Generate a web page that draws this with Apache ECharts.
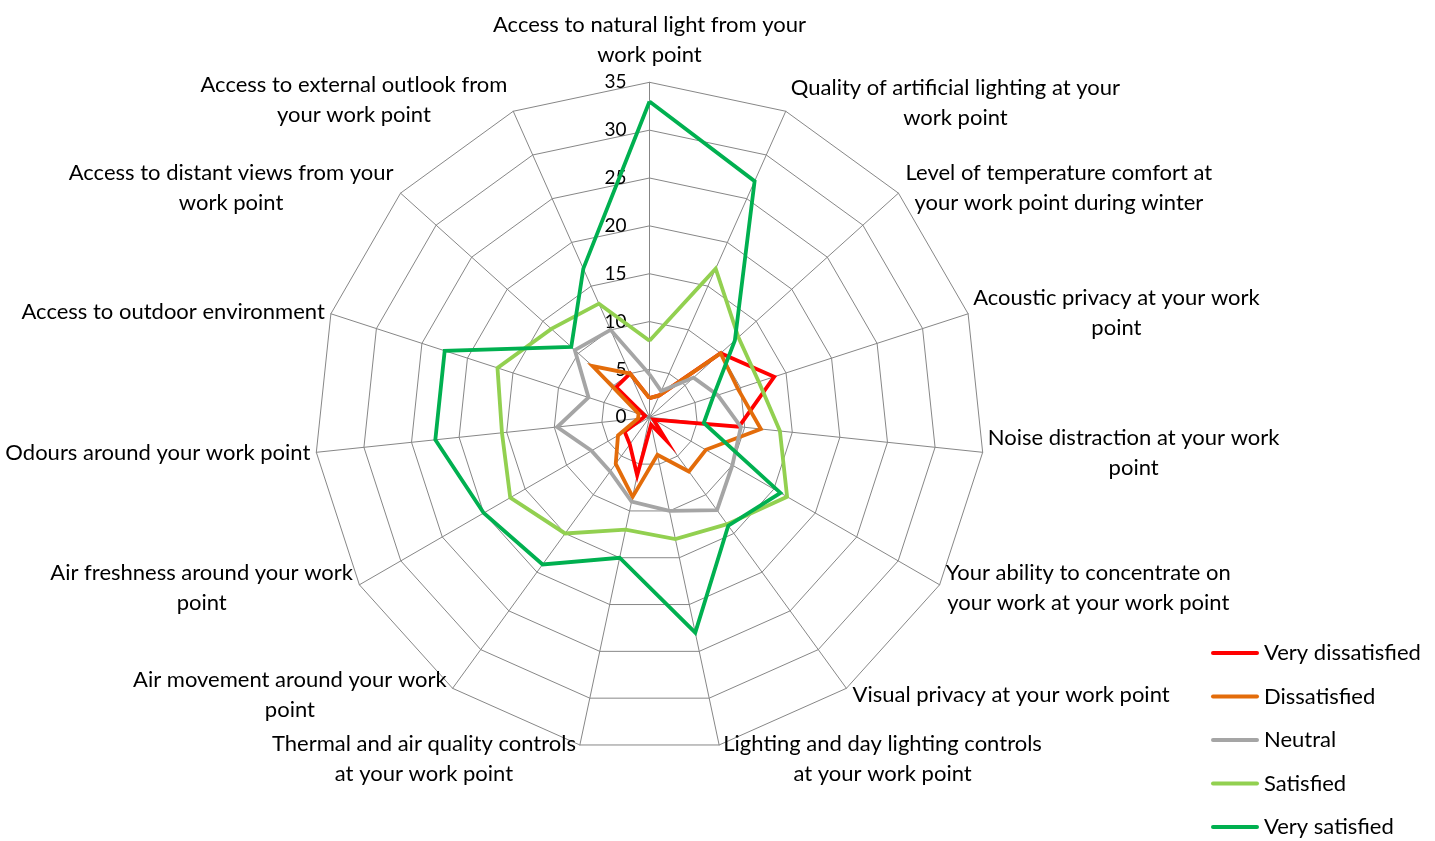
<!DOCTYPE html>
<html>
<head>
<meta charset="utf-8">
<script src="https://cdn.jsdelivr.net/npm/echarts@6/dist/echarts.min.js"></script>
<style>
  html, body { margin: 0; padding: 0; background: #ffffff; }
  #chart { width: 1435px; height: 841px; }
</style>
</head>
<body>
<div id="chart"></div>
<script>
// Workplace survey items, listed clockwise starting from the top of the radar
const categories = [
  'Access to natural light from your\nwork point',
  'Quality of artificial lighting at your\nwork point',
  'Level of temperature comfort at\nyour work point during winter',
  'Acoustic privacy at your work\npoint',
  'Noise distraction at your work\npoint',
  'Your ability to concentrate on\nyour work at your work point',
  'Visual privacy at your work point',
  'Lighting and day lighting controls\nat your work point',
  'Thermal and air quality controls\nat your work point',
  'Air movement around your work\npoint',
  'Air freshness around your work\npoint',
  'Odours around your work point',
  'Access to outdoor environment',
  'Access to distant views from your\nwork point',
  'Access to external outlook from\nyour work point'
];

const seriesNames = ['Very dissatisfied', 'Dissatisfied', 'Neutral', 'Satisfied', 'Very satisfied'];

// Responses per item (same clockwise order as categories)
const veryDissatisfied = [2, 2.5, 10, 13.7, 9.4, 0.5, 3, 0.8, 6.2, 3.5, 3, 0.7, 0.5, 4.7, 5];
const dissatisfied     = [2, 2.5, 10, 9.7, 11.7, 6.8, 7, 4, 8.5, 6, 3.8, 1.2, 1.2, 8, 5];
const neutral          = [4.5, 3, 6.2, 7.5, 9.6, 10, 12, 10, 9, 7, 7, 9.7, 6.7, 10.5, 10];
const satisfied        = [8, 17, 12.5, 12, 13.7, 16.6, 13.8, 13, 12, 15, 16.8, 15.5, 16.7, 13.8, 13];
const verySatisfied    = [33, 27, 12, 7, 5.7, 15.8, 14, 23, 15, 19, 20, 22.5, 22.5, 11, 17];

// Radial scale tick values
const tickValues = [0, 5, 10, 15, 20, 25, 30, 35];

const seriesValues = [veryDissatisfied, dissatisfied, neutral, satisfied, verySatisfied];
const seriesColors = ['#FF0000', '#E36C0A', '#A5A5A5', '#92D050', '#00B050'];

// Distance between each axis end and its name
const nameGaps = [12, 9, 8, 4, 4, 6, 8, 14, 14, 8, 6, 5, 5, 8, 12];

// ECharts lays radar indicators out counter-clockwise; keep the first at the top
// and reverse the rest so the items run clockwise.
const toEchartsOrder = arr => [arr[0]].concat(arr.slice(1).reverse());

const FONT_FAMILY = 'Lato';
const NAME_SIZE = 22;
const TICK_SIZE = 19;

// Measure label lines so multi-line names are centred line by line
const measureCtx = document.createElement('canvas').getContext('2d');
measureCtx.font = NAME_SIZE + 'px ' + FONT_FAMILY;
const rich = {};
categories.forEach((c, i) => {
  const w = Math.max.apply(null, c.split('\n').map(l => measureCtx.measureText(l).width));
  rich['c' + i] = {
    width: Math.ceil(w) + 2,
    align: 'center',
    fontFamily: FONT_FAMILY,
    fontSize: NAME_SIZE,
    lineHeight: 30,
    color: '#000000'
  };
});

const indicators = categories.map((name, i) => {
  const ind = { name: name, min: tickValues[0], max: tickValues[tickValues.length - 1], nameGap: nameGaps[i] };
  if (i === 0) {
    ind.axisLabel = {
      show: true,
      fontFamily: FONT_FAMILY,
      fontSize: TICK_SIZE,
      color: '#000000',
      margin: 23,
      padding: [6, 0, 0, 0]
    };
  }
  return ind;
});

const chart = echarts.init(document.getElementById('chart'), null, { renderer: 'canvas' });

chart.setOption({
  animation: false,
  backgroundColor: '#ffffff',
  legend: {
    orient: 'vertical',
    left: 1211,
    top: 642,
    padding: 0,
    itemWidth: 48,
    itemHeight: 4,
    itemGap: 21.5,
    icon: 'path://M2,0H46A2,2,0,0,1,46,4H2A2,2,0,0,1,2,0Z',
    textStyle: { fontFamily: FONT_FAMILY, fontSize: NAME_SIZE, color: '#000000', lineHeight: 21 },
    data: seriesNames
  },
  radar: {
    center: [649.5, 417.3],
    radius: 335,
    startAngle: 90,
    shape: 'polygon',
    splitNumber: tickValues.length - 1,
    axisName: {
      formatter: function (name) {
        const i = categories.indexOf(name);
        return name.split('\n').map(l => '{c' + i + '|' + l + '}').join('\n');
      },
      rich: rich,
      color: '#000000'
    },
    axisLine: { lineStyle: { color: '#878787', width: 1 } },
    splitLine: { lineStyle: { color: '#878787', width: 1 } },
    splitArea: { show: false },
    axisTick: { show: false },
    axisLabel: { show: false },
    indicator: toEchartsOrder(indicators)
  },
  series: [{
    type: 'radar',
    symbol: 'none',
    data: seriesNames.map((n, k) => ({
      name: n,
      value: toEchartsOrder(seriesValues[k]),
      symbol: 'none',
      itemStyle: { color: seriesColors[k] },
      lineStyle: { color: seriesColors[k], width: 3.8, join: 'miter' }
    }))
  }]
});
</script>
</body>
</html>
